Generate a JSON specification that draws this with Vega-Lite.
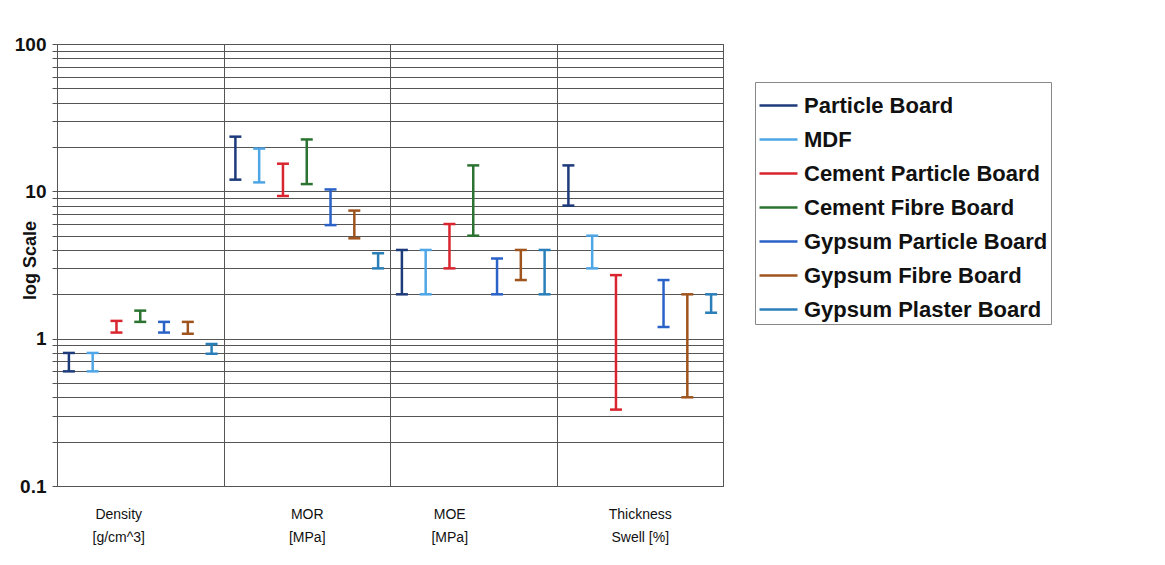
{
  "$schema": "https://vega.github.io/schema/vega-lite/v6.json",
  "autosize": {"type": "none"},
  "padding": {"left": 57, "top": 44, "right": 442, "bottom": 79},
  "width": 666,
  "height": 442,
  "background": "white",
  "config": {
    "view": {"stroke": "#555", "strokeWidth": 1},
    "font": "Liberation Sans"
  },
  "data": {
    "values": [
      {"property": "Density [g/cm^3]", "series": "Particle Board", "lo": 0.6, "hi": 0.8},
      {"property": "Density [g/cm^3]", "series": "MDF", "lo": 0.6, "hi": 0.8},
      {"property": "Density [g/cm^3]", "series": "Cement Particle Board", "lo": 1.1, "hi": 1.32},
      {"property": "Density [g/cm^3]", "series": "Cement Fibre Board", "lo": 1.3, "hi": 1.55},
      {"property": "Density [g/cm^3]", "series": "Gypsum Particle Board", "lo": 1.1, "hi": 1.3},
      {"property": "Density [g/cm^3]", "series": "Gypsum Fibre Board", "lo": 1.08, "hi": 1.3},
      {"property": "Density [g/cm^3]", "series": "Gypsum Plaster Board", "lo": 0.79, "hi": 0.92},
      {"property": "MOR [MPa]", "series": "Particle Board", "lo": 12, "hi": 23.5},
      {"property": "MOR [MPa]", "series": "MDF", "lo": 11.5, "hi": 19.5},
      {"property": "MOR [MPa]", "series": "Cement Particle Board", "lo": 9.3, "hi": 15.4},
      {"property": "MOR [MPa]", "series": "Cement Fibre Board", "lo": 11.2, "hi": 22.5},
      {"property": "MOR [MPa]", "series": "Gypsum Particle Board", "lo": 5.9, "hi": 10.3},
      {"property": "MOR [MPa]", "series": "Gypsum Fibre Board", "lo": 4.8, "hi": 7.4},
      {"property": "MOR [MPa]", "series": "Gypsum Plaster Board", "lo": 3.0, "hi": 3.8},
      {"property": "MOE [MPa]", "series": "Particle Board", "lo": 2, "hi": 4},
      {"property": "MOE [MPa]", "series": "MDF", "lo": 2, "hi": 4},
      {"property": "MOE [MPa]", "series": "Cement Particle Board", "lo": 3, "hi": 6},
      {"property": "MOE [MPa]", "series": "Cement Fibre Board", "lo": 5, "hi": 15},
      {"property": "MOE [MPa]", "series": "Gypsum Particle Board", "lo": 2, "hi": 3.5},
      {"property": "MOE [MPa]", "series": "Gypsum Fibre Board", "lo": 2.5, "hi": 4},
      {"property": "MOE [MPa]", "series": "Gypsum Plaster Board", "lo": 2, "hi": 4},
      {"property": "Thickness Swell [%]", "series": "Particle Board", "lo": 8, "hi": 15},
      {"property": "Thickness Swell [%]", "series": "MDF", "lo": 3, "hi": 5},
      {"property": "Thickness Swell [%]", "series": "Cement Particle Board", "lo": 0.33, "hi": 2.7},
      {"property": "Thickness Swell [%]", "series": "Gypsum Particle Board", "lo": 1.2, "hi": 2.5},
      {"property": "Thickness Swell [%]", "series": "Gypsum Fibre Board", "lo": 0.4, "hi": 2},
      {"property": "Thickness Swell [%]", "series": "Gypsum Plaster Board", "lo": 1.5, "hi": 2}
    ]
  },
  "encoding": {
    "x": {
      "field": "property",
      "type": "nominal",
      "sort": ["Density [g/cm^3]", "MOR [MPa]", "MOE [MPa]", "Thickness Swell [%]"],
      "scale": {"paddingInner": 0, "paddingOuter": 0},
      "axis": {
        "title": null,
        "labelAngle": 0,
        "labelExpr": "datum.label == 'Thickness Swell [%]' ? ['Thickness', 'Swell [%]'] : split(datum.label, ' ')",
        "labelFont": "Liberation Sans",
        "labelFontSize": 14,
        "labelColor": "#111",
        "labelLineHeight": 23,
        "labelPadding": 21,
        "labelBaseline": "top",
        "labelOffset": {
          "condition": [
            {"test": "datum.value == 'Density [g/cm^3]'", "value": -22},
            {"test": "datum.value == 'MOE [MPa]'", "value": -24}
          ],
          "value": 0
        },
        "ticks": false,
        "domain": false,
        "grid": true,
        "tickBand": "extent",
        "gridColor": "#555",
        "gridOpacity": 1,
        "gridWidth": 1
      }
    },
    "xOffset": {
      "field": "series",
      "type": "nominal",
      "sort": ["Particle Board", "MDF", "Cement Particle Board", "Cement Fibre Board", "Gypsum Particle Board", "Gypsum Fibre Board", "Gypsum Plaster Board"],
      "scale": {"paddingInner": 0, "paddingOuter": 0}
    },
    "color": {
      "field": "series",
      "type": "nominal",
      "sort": ["Particle Board", "MDF", "Cement Particle Board", "Cement Fibre Board", "Gypsum Particle Board", "Gypsum Fibre Board", "Gypsum Plaster Board"],
      "scale": {
        "domain": ["Particle Board", "MDF", "Cement Particle Board", "Cement Fibre Board", "Gypsum Particle Board", "Gypsum Fibre Board", "Gypsum Plaster Board"],
        "range": ["#1d3a7a", "#4ea6e6", "#d9252f", "#2b7330", "#2a62c8", "#9e541c", "#2a7fb8"]
      },
      "legend": {
        "title": null,
        "orient": "none",
        "legendX": 698,
        "legendY": 38,
        "symbolType": "stroke",
        "symbolSize": 1444,
        "symbolStrokeWidth": 2.5,
        "labelFont": "Liberation Sans",
        "labelFontWeight": "bold",
        "labelFontSize": 22,
        "labelColor": "#111",
        "labelOffset": 5,
        "labelLimit": 400,
        "rowPadding": 2,
        "padding": 3,
        "strokeColor": "#888",
        "fillColor": "white"
      }
    },
    "strokeWidth": {
      "field": "series",
      "type": "nominal",
      "scale": {
        "domain": ["Particle Board", "MDF", "Cement Particle Board", "Cement Fibre Board", "Gypsum Particle Board", "Gypsum Fibre Board", "Gypsum Plaster Board"],
        "range": [2.5, 2.5, 2.5, 2.5, 2.5, 2.5, 4.5]
      },
      "legend": null
    }
  },
  "layer": [
    {
      "mark": {"type": "rule"},
      "encoding": {
        "y": {
          "field": "lo",
          "type": "quantitative",
          "scale": {"type": "log", "domain": [0.1, 100], "nice": false},
          "axis": {
            "title": "log Scale",
            "titleFont": "Liberation Sans",
            "titleFontWeight": "bold",
            "titleFontSize": 18,
            "titleColor": "#111",
            "titleAngle": 270,
            "titleAlign": "center",
            "titleBaseline": "middle",
            "titleX": -27,
            "titleY": 216,
            "values": [0.1, 0.2, 0.3, 0.4, 0.5, 0.6, 0.7, 0.8, 0.9, 1, 2, 3, 4, 5, 6, 7, 8, 9, 10, 20, 30, 40, 50, 60, 70, 80, 90, 100],
            "labelExpr": "(datum.value == 0.1 || datum.value == 1 || datum.value == 10 || datum.value == 100) ? datum.label : ''",
            "format": "~g",
            "labelFont": "Liberation Sans",
            "labelFontWeight": "bold",
            "labelFontSize": 19,
            "labelColor": "#111",
            "labelPadding": 6,
            "tickSize": 5,
            "tickColor": "#555",
            "domain": false,
            "grid": true,
            "gridColor": "#555",
            "gridOpacity": 1,
            "gridWidth": 1
          }
        },
        "y2": {"field": "hi"}
      }
    },
    {
      "mark": {"type": "point", "shape": "stroke", "filled": false, "size": 144, "opacity": 1},
      "encoding": {"y": {"field": "lo", "type": "quantitative"}}
    },
    {
      "mark": {"type": "point", "shape": "stroke", "filled": false, "size": 144, "opacity": 1},
      "encoding": {"y": {"field": "hi", "type": "quantitative"}}
    }
  ]
}
